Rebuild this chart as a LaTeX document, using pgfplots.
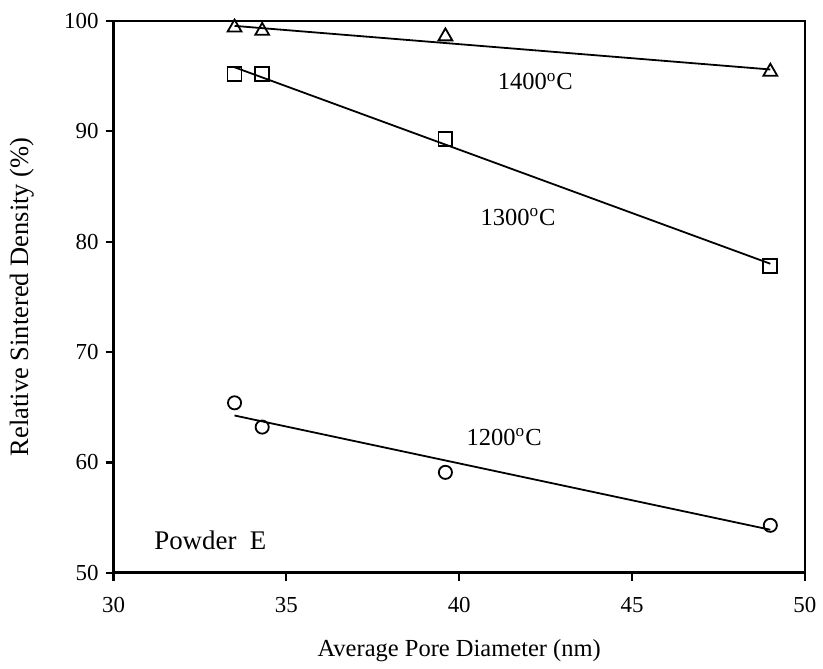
\documentclass[border=0pt]{standalone}
\usepackage{pgfplots}
\pgfplotsset{compat=1.18}
\usepackage{fontspec}
\setmainfont{Liberation Serif}
\begin{document}
\begin{tikzpicture}
\begin{axis}[
    scale only axis,
    width=347pt, height=277pt,
    xmin=30, xmax=50, ymin=50, ymax=100,
    xtick={30,35,40,45,50},
    ytick={50,60,70,80,90,100},
    axis line style={line width=1.4pt},
    tick style={line width=1.1pt, black},
    tick align=outside,
    major tick length=4pt,
    xtick pos=bottom, ytick pos=left,
    /pgf/number format/assume math mode=true,
    ticklabel style={font=\fontsize{11.5}{13}\selectfont},
    xticklabel style={yshift=-5pt},
    xlabel={Average Pore Diameter (nm)},
    ylabel={Relative Sintered Density (\%)},
    xlabel style={font=\fontsize{12.3}{14}\selectfont, at={([yshift=-39pt]axis description cs:0.5,0)}, anchor=center},
    ylabel style={font=\fontsize{13.3}{15}\selectfont, at={([xshift=-46pt]axis description cs:0,0.5)}, anchor=center},
    clip=false,
]

% 1400 C
\addplot[only marks, mark=triangle, mark size=4pt, mark options={line width=0.9pt}] coordinates {
    (33.5, 99.4) (34.3, 99.1) (39.6, 98.6) (49.0, 95.4)
};
\addplot[no marks, line width=0.9pt] coordinates {(33.5, 99.55) (49.0, 95.6)};

% 1300 C
\addplot[only marks, mark=square, mark size=3.5pt, mark options={line width=0.9pt}] coordinates {
    (33.5, 95.2) (34.3, 95.2) (39.6, 89.3) (49.0, 77.8)
};
\addplot[no marks, line width=0.9pt] coordinates {(33.5, 95.8) (49.0, 78.0)};

% 1200 C
\addplot[only marks, mark=o, mark size=3.3pt, mark options={line width=0.9pt}] coordinates {
    (33.5, 65.4) (34.3, 63.2) (39.6, 59.1) (49.0, 54.3)
};
\addplot[no marks, line width=0.9pt] coordinates {(33.5, 64.25) (49.0, 53.9)};

\node[font=\fontsize{12.3}{14}\selectfont] at (axis cs:42.2,94.5) {1400\textsuperscript{o}C};
\node[font=\fontsize{12.3}{14}\selectfont] at (axis cs:41.7,82.25) {1300\textsuperscript{o}C};
\node[font=\fontsize{12.3}{14}\selectfont] at (axis cs:41.3,62.3) {1200\textsuperscript{o}C};
\node[font=\fontsize{13.5}{15}\selectfont] at (axis cs:32.8,52.9) {Powder\ \ E};

% page margins as in the reference
\path (rel axis cs:0,1) ++(-57pt,10.5pt) coordinate (tl);
\path (rel axis cs:1,0) ++(7.5pt,-45pt) coordinate (br);
\path (tl) (br);
\end{axis}
\end{tikzpicture}
\end{document}
